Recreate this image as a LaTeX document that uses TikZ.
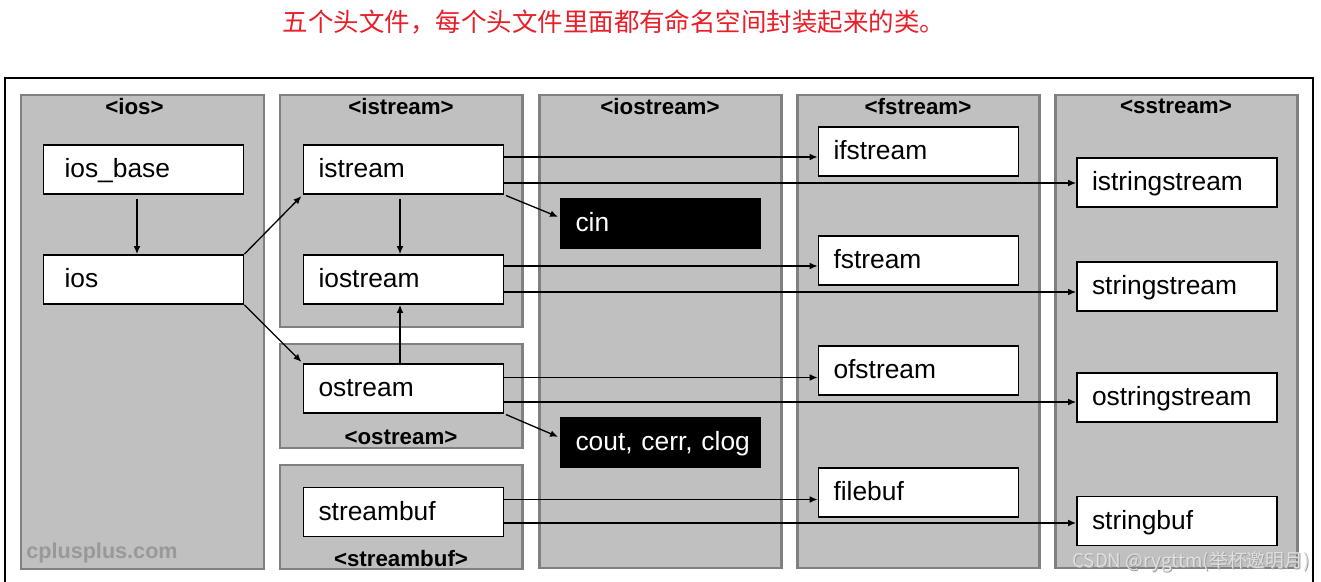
\documentclass[tikz,border=0pt]{standalone}
\usepackage{fontspec}
\setmainfont{Liberation Sans}
\newfontfamily\cjk{Noto Sans CJK SC}
\usetikzlibrary{arrows,arrows.meta,positioning,calc}
\definecolor{panelfill}{RGB}{192,192,192}
\definecolor{panelline}{RGB}{128,128,128}
\definecolor{titlered}{RGB}{232,30,40}

\begin{document}
\begin{tikzpicture}[auto, node distance=2.2cm, >={Latex[length=4.5pt,width=3.8pt]}, line width=0.75pt]

        \tikzstyle{panel} = [draw=panelline, fill=panelfill, line width=1.7pt, rectangle, inner sep=0pt, minimum width=4.84cm]
        \tikzstyle{header} = [font=\fontsize{12.7}{14}\selectfont\bfseries, inner sep=0pt]
        \tikzstyle{box} = [draw, fill=white, rectangle, line width=1pt, minimum width=4cm, minimum height=0.98cm, text width=3.4cm, inner xsep=0.3cm, align=left, font=\fontsize{15}{18}\selectfont, text height=11pt, text depth=1.4pt]
        \tikzstyle{iosbox} = [box, text width=3.16cm, inner xsep=0.42cm]
        \tikzstyle{object} = [box, fill=black, text=white]
        \tikzstyle{frame} = [draw, line width=1.2pt]
        \tikzstyle{watermark} = [font=\cjk\fontsize{10.7}{12}\selectfont]

        \useasboundingbox (0,0) rectangle (26.42,-11.64);

        \node [font=\cjk\fontsize{14.5}{16}\selectfont, text=titlered] (title) at (12.28,-0.44) {五个头文件，每个头文件里面都有命名空间封装起来的类。};

        % outer frame, bottom edge cut off
        \draw [frame] (0.1,-12) |- (26.26,-1.56) -- (26.26,-12);

        % header files
        \node [panel, minimum width=4.86cm, minimum height=9.48cm] (iospanel) at (2.85,-6.64) {};
        \node [panel, minimum height=4.64cm] (istreampanel) at (8.02,-4.22) {};
        \node [panel, minimum height=2.08cm] (ostreampanel) at (8.02,-7.92) {};
        \node [panel, minimum height=2.08cm] (streambufpanel) at (8.02,-10.34) {};
        \node [panel, minimum height=9.46cm] (iostreampanel) at (13.2,-6.63) {};
        \node [panel, minimum height=9.46cm] (fstreampanel) at (18.36,-6.63) {};
        \node [panel, minimum height=9.46cm] (sstreampanel) at (23.52,-6.63) {};

        \node [header] (iosname) at ([xshift=-0.16cm, yshift=-0.26cm]iospanel.north) {<ios>};
        \node [header] (istreamname) at ([yshift=-0.26cm]istreampanel.north) {<istream>};
        \node [header] (iostreamname) at ([yshift=-0.26cm]iostreampanel.north) {<iostream>};
        \node [header] (fstreamname) at ([yshift=-0.26cm]fstreampanel.north) {<fstream>};
        \node [header] (sstreamname) at ([yshift=-0.26cm]sstreampanel.north) {<sstream>};
        \node [header] (ostreamname) at ([yshift=0.24cm]ostreampanel.south) {<ostream>};
        \node [header] (streambufname) at ([yshift=0.24cm]streambufpanel.south) {<streambuf>};

        \node [font=\fontsize{12.3}{14}\selectfont\bfseries, text=black!40] (site) at (2.04,-11.06) {cplusplus.com};
        % light letters over a grey shadow
        \node [watermark, text=black!38] (csdnshadow) at (23.84,-11.26) {CSDN @rygttm(举杯邀明月)};
        \node [watermark, text=white!88!black] (csdn) at (23.82,-11.24) {CSDN @rygttm(举杯邀明月)};

        % classes
        \node [iosbox] (iosbase) at (2.87,-3.39) {ios\_base};
        \node [iosbox, below of=iosbase] (ios) {ios};

        \node [box, right of=iosbase, node distance=5.2cm] (istream) {istream};
        \node [box, below of=istream] (iostream) {iostream};
        \node [box, below of=iostream, node distance=2.18cm] (ostream) {ostream};
        \node [box, below of=ostream, node distance=2.47cm] (streambuf) {streambuf};

        \node [object] (cin) at (13.21,-4.47) {cin};
        \node [object] (cout) at (13.21,-8.85) {\mbox{cout, cerr, clog}};

        \node [box] (ifstream) at (18.37,-3.03) {ifstream};
        \node [box, below of=ifstream, node distance=2.18cm] (fstream) {fstream};
        \node [box, below of=fstream] (ofstream) {ofstream};
        \node [box, below of=ofstream, node distance=2.44cm] (filebuf) {filebuf};

        \node [box] (istringstream) at (23.54,-3.65) {istringstream};
        \node [box, below of=istringstream, node distance=2.08cm] (stringstream) {stringstream};
        \node [box, below of=stringstream, node distance=2.22cm] (ostringstream) {ostringstream};
        \node [box, below of=ostringstream, node distance=2.47cm] (stringbuf) {stringbuf};

        % inheritance
        \draw [->, shorten <=2.3pt] ([xshift=-0.13cm]iosbase.south) -- ([xshift=-0.13cm]ios.north);
        \draw [->, shorten >=1pt] (ios.north east) -- (istream.south west);
        \draw [->, shorten >=1pt] (ios.south east) -- (ostream.north west);
        \draw [->, shorten <=2.3pt] ([xshift=-0.07cm]istream.south) -- ([xshift=-0.07cm]iostream.north);
        \draw [->] ([xshift=-0.07cm]ostream.north) -- ([xshift=-0.07cm]iostream.south);

        \draw [->, shorten <=1pt, shorten >=1pt] (istream.south east) -- ([yshift=0.12cm]cin.west);
        \draw [->, shorten <=1pt, shorten >=1pt] (ostream.south east) -- ([yshift=0.1cm]cout.west);

        \draw [->] ([yshift=0.25cm]istream.east) -- ([yshift=0.25cm]istream.east -| ifstream.west);
        \draw [->] ([yshift=-0.27cm]istream.east) -- ([yshift=-0.27cm]istream.east -| istringstream.west);
        \draw [->] ([yshift=0.27cm]iostream.east) -- ([yshift=0.27cm]iostream.east -| fstream.west);
        \draw [->] ([yshift=-0.25cm]iostream.east) -- ([yshift=-0.25cm]iostream.east -| stringstream.west);
        \draw [->] ([yshift=0.22cm]ostream.east) -- ([yshift=0.22cm]ostream.east -| ofstream.west);
        \draw [->] ([yshift=-0.27cm]ostream.east) -- ([yshift=-0.27cm]ostream.east -| ostringstream.west);
        \draw [->] ([yshift=0.25cm]streambuf.east) -- ([yshift=0.25cm]streambuf.east -| filebuf.west);
        \draw [->] ([yshift=-0.22cm]streambuf.east) -- ([yshift=-0.22cm]streambuf.east -| stringbuf.west);

\end{tikzpicture}
\end{document}
